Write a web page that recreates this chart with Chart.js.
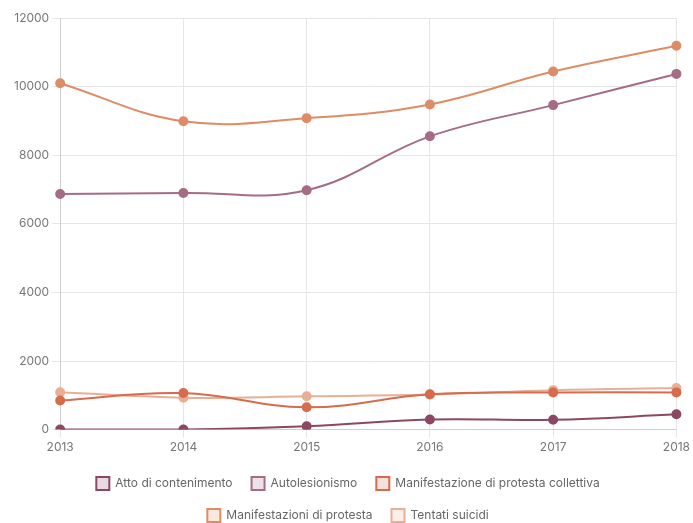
<!DOCTYPE html>
<html>
<head>
<meta charset="utf-8">
<script src="https://cdn.jsdelivr.net/npm/chart.js@4"></script>
<style>
  html, body { margin: 0; padding: 0; background: #fff; }
  #wrap { width: 693px; height: 523px; }
</style>
</head>
<body>
<div id="wrap"><canvas id="myChart"></canvas></div>
<script>
const years = ['2013', '2014', '2015', '2016', '2017', '2018'];
const attoContenimento = [0, 0, 95, 295, 285, 445];
const autolesionismo = [6870, 6900, 6980, 8550, 9460, 10370];
const protestaCollettiva = [850, 1065, 650, 1030, 1080, 1085];
const manifestazioniProtesta = [10100, 8990, 9080, 9480, 10440, 11190];
const tentatiSuicidi = [1090, 930, 970, 1020, 1150, 1210];

function serie(label, data, color, fill) {
  return {
    label: label,
    data: data,
    borderColor: color,
    backgroundColor: fill,
    pointBackgroundColor: color,
    pointBorderColor: color,
    pointRadius: 4,
    pointHoverRadius: 5,
    borderWidth: 2,
    tension: 0.4
  };
}

const ctx = document.getElementById('myChart').getContext('2d');
new Chart(ctx, {
  type: 'line',
  data: {
    labels: years,
    datasets: [
      serie('Atto di contenimento', attoContenimento, '#8c4762', 'rgba(140,71,98,0.2)'),
      serie('Autolesionismo', autolesionismo, '#a56c86', 'rgba(165,108,134,0.2)'),
      serie('Manifestazione di protesta collettiva', protestaCollettiva, '#d66c4c', 'rgba(214,108,76,0.2)'),
      serie('Manifestazioni di protesta', manifestazioniProtesta, '#de8c66', 'rgba(222,140,102,0.2)'),
      serie('Tentati suicidi', tentatiSuicidi, '#e8ae96', 'rgba(232,174,150,0.2)')
    ]
  },
  options: {
    responsive: true,
    maintainAspectRatio: false,
    animation: false,
    layout: { padding: { top: 18, right: 8, left: 11, bottom: -9 } },
    plugins: {
      legend: {
        position: 'bottom',
        labels: {
          boxWidth: 13,
          boxHeight: 13,
          padding: 19,
          color: '#666',
          font: { family: 'Inter', size: 12 }
        }
      },
      tooltip: { enabled: false }
    },
    scales: {
      x: {
        grid: { color: '#e6e6e6' },
        ticks: { color: '#777', font: { family: 'Inter', size: 12 } }
      },
      y: {
        min: 0,
        max: 12000,
        ticks: {
          stepSize: 2000,
          color: '#777',
          font: { family: 'Inter', size: 12 },
          callback: v => String(v)
        },
        grid: { color: '#e6e6e6' }
      }
    }
  }
});
</script>
</body>
</html>
